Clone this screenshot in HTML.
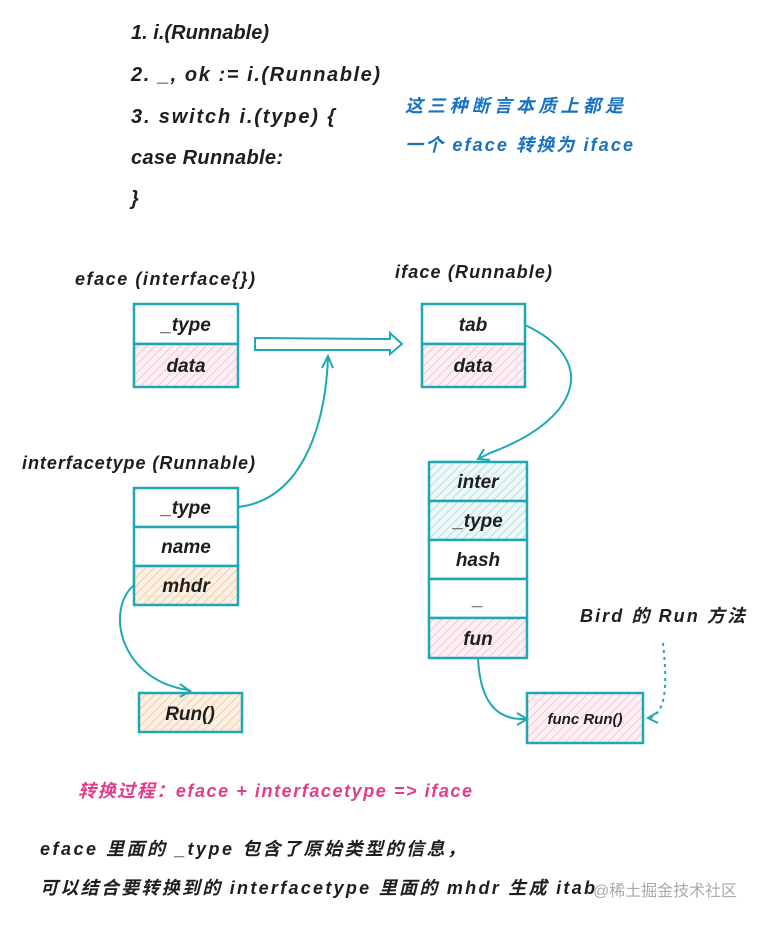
<!DOCTYPE html>
<html><head><meta charset="utf-8"><style>
html,body{margin:0;padding:0;background:#fff;}
svg{display:block;}
text{font-family:"Liberation Sans","Noto Sans CJK SC",sans-serif;font-style:italic;fill:#1e1e1e;}
</style></head><body>
<svg width="760" height="925" viewBox="0 0 760 925" xmlns="http://www.w3.org/2000/svg">
<defs>
<pattern id="pk" patternUnits="userSpaceOnUse" width="6" height="6" patternTransform="rotate(45)"><rect width="6" height="6" fill="#fdf0f4"/><line x1="0" y1="0" x2="0" y2="6" stroke="#f3b9cc" stroke-width="1.5"/></pattern>
<pattern id="or" patternUnits="userSpaceOnUse" width="6" height="6" patternTransform="rotate(45)"><rect width="6" height="6" fill="#fdf1e6"/><line x1="0" y1="0" x2="0" y2="6" stroke="#f4bf8c" stroke-width="1.5"/></pattern>
<pattern id="tl" patternUnits="userSpaceOnUse" width="6" height="6" patternTransform="rotate(45)"><rect width="6" height="6" fill="#eef9f8"/><line x1="0" y1="0" x2="0" y2="6" stroke="#9ad9d3" stroke-width="1.5"/></pattern>
</defs>
<g font-size="20" font-weight="bold" lengthAdjust="spacing">
<text x="131" y="39" textLength="138">1. i.(Runnable)</text>
<text x="131" y="81" textLength="249">2. _, ok := i.(Runnable)</text>
<text x="131" y="123" textLength="204">3. switch i.(type) {</text>
<text x="131" y="164" textLength="152">case Runnable:</text>
<text x="131" y="205">}</text>
</g>
<g font-size="18" font-weight="bold">
<text x="405" y="112" textLength="218" style="fill:#1971c2">这三种断言本质上都是</text>
<text x="405" y="151" textLength="228" style="fill:#1971c2">一个 eface 转换为 iface</text>
<text x="75" y="285" textLength="180">eface (interface{})</text>
<text x="395" y="278" textLength="157">iface (Runnable)</text>
<text x="22" y="469" textLength="233">interfacetype (Runnable)</text>
<text x="580" y="622" textLength="165">Bird 的 Run 方法</text>
<text x="78" y="797" textLength="394" style="fill:#e03d8a">转换过程：eface + interfacetype => iface</text>
<text x="40" y="855" textLength="425">eface 里面的 _type 包含了原始类型的信息，</text>
<text x="40" y="894" textLength="555">可以结合要转换到的 interfacetype 里面的 mhdr 生成 itab</text>
</g>
<text x="593" y="896" font-size="16" textLength="144" style="fill:#aaa;font-style:normal">@稀土掘金技术社区</text>
<g stroke="#1fa8b4" stroke-width="2.5">
<rect x="134" y="304" width="104" height="40" fill="#fff"/>
<rect x="134" y="344" width="104" height="43" fill="url(#pk)"/>
<rect x="422" y="304" width="103" height="40" fill="#fff"/>
<rect x="422" y="344" width="103" height="43" fill="url(#pk)"/>
<rect x="134" y="488" width="104" height="39" fill="#fff"/>
<rect x="134" y="527" width="104" height="39" fill="#fff"/>
<rect x="134" y="566" width="104" height="39" fill="url(#or)"/>
<rect x="139" y="693" width="103" height="39" fill="url(#or)"/>
<rect x="429" y="462" width="98" height="39" fill="url(#tl)"/>
<rect x="429" y="501" width="98" height="39" fill="url(#tl)"/>
<rect x="429" y="540" width="98" height="39" fill="#fff"/>
<rect x="429" y="579" width="98" height="39" fill="#fff"/>
<rect x="429" y="618" width="98" height="40" fill="url(#pk)"/>
<rect x="527" y="693" width="116" height="50" fill="url(#pk)"/>
</g>
<g fill="none" stroke="#1fa8b4" stroke-width="2">
<path d="M255 338 L390 339 L390 333 L402 344 L390 354 L390 350 L255 350 Z"/>
<path d="M238 507 C300 500 325 430 328 358"/>
<path d="M322 368 L328 356 L333 368"/>
<path d="M525 325 C600 360 580 420 490 453 L480 458"/>
<path d="M484 449 L478 459 L490 460"/>
<path d="M134 585 C105 610 120 680 188 690"/>
<path d="M180 684 L190 691 L180 697"/>
<path d="M478 658 C480 700 495 720 525 719"/>
<path d="M517 713 L527 719 L517 725"/>
<path d="M663 643 C668 690 665 712 650 718" stroke-dasharray="3 4"/>
<path d="M658 712 L648 718 L658 723"/>
</g>
<g font-size="19" font-weight="bold" text-anchor="middle">
<text x="186" y="331">_type</text>
<text x="186" y="372">data</text>
<text x="473" y="331">tab</text>
<text x="473" y="372">data</text>
<text x="186" y="514">_type</text>
<text x="186" y="553">name</text>
<text x="186" y="592">mhdr</text>
<text x="190" y="720">Run()</text>
<text x="478" y="488">inter</text>
<text x="478" y="527">_type</text>
<text x="478" y="566">hash</text>
<text x="478" y="605">_</text>
<text x="478" y="645">fun</text>
<text x="585" y="724" font-size="15">func Run()</text>
</g>
</svg>
</body></html>
